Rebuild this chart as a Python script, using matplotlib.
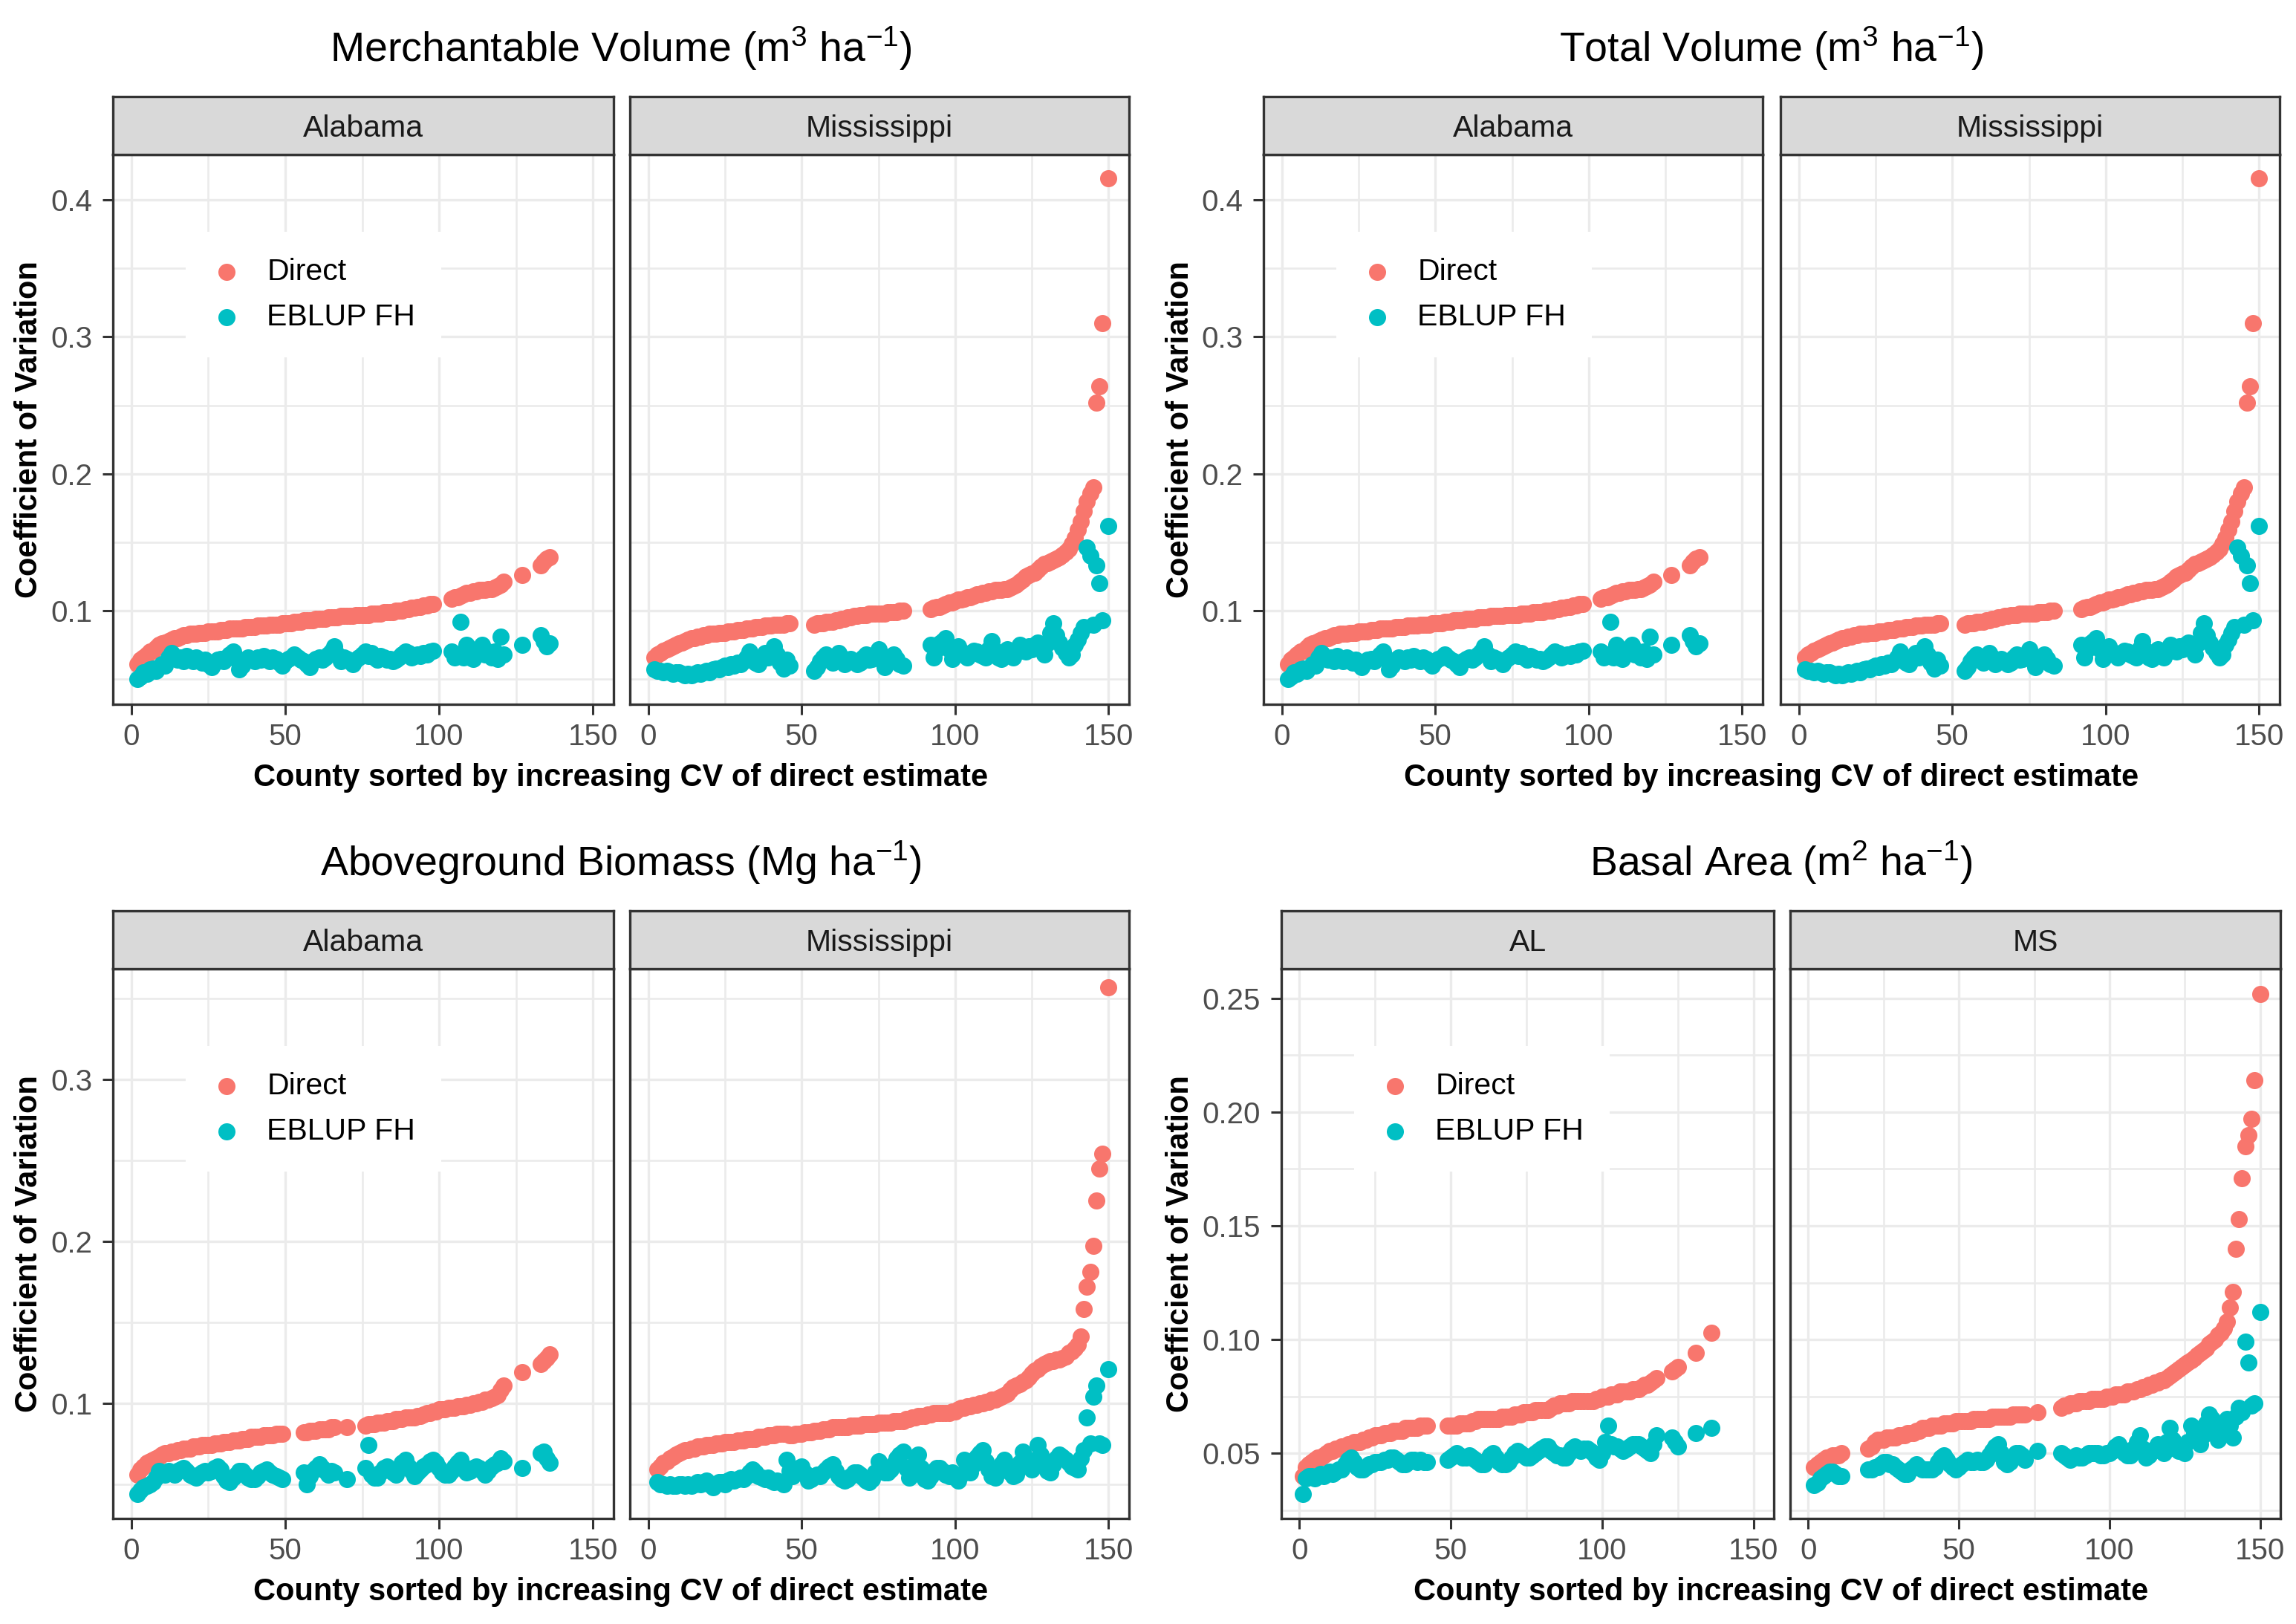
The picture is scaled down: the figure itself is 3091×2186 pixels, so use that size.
import matplotlib
matplotlib.use('Agg')
import matplotlib.pyplot as plt
from matplotlib.ticker import MultipleLocator, FormatStrFormatter

plt.rcParams['font.family'] = ['Liberation Sans', 'DejaVu Sans']
plt.rcParams['mathtext.fontset'] = 'custom'
plt.rcParams['mathtext.rm'] = 'Liberation Sans'
plt.rcParams['mathtext.it'] = 'Liberation Sans:italic'
plt.rcParams['mathtext.bf'] = 'Liberation Sans:bold'

RED = '#F8766D'
TEAL = '#00BFC4'

# ---- merchantable volume, Alabama
mv_al_x = list(range(2, 99)) + list(range(104, 122)) + [127] + list(range(133, 137))
mv_al_direct = [
    0.061, 0.064, 0.066, 0.068, 0.070, 0.071, 0.073, 0.075, 0.076, 0.077,
    0.078, 0.079, 0.080, 0.080, 0.081, 0.082, 0.082, 0.083, 0.083, 0.083,
    0.084, 0.084, 0.084, 0.085, 0.085, 0.085, 0.085, 0.086, 0.086, 0.086,
    0.087, 0.087, 0.087, 0.087, 0.087, 0.088, 0.088, 0.088, 0.088, 0.089,
    0.089, 0.089, 0.089, 0.090, 0.090, 0.090, 0.090, 0.091, 0.091, 0.091,
    0.091, 0.092, 0.092, 0.092, 0.093, 0.093, 0.093, 0.093, 0.094, 0.094,
    0.094, 0.094, 0.095, 0.095, 0.095, 0.095, 0.096, 0.096, 0.096, 0.096,
    0.096, 0.097, 0.097, 0.097, 0.097, 0.097, 0.098, 0.098, 0.098, 0.098,
    0.099, 0.099, 0.099, 0.099, 0.100, 0.100, 0.100, 0.101, 0.101, 0.102,
    0.102, 0.103, 0.103, 0.104, 0.104, 0.105, 0.105,
    0.109, 0.110, 0.110, 0.111, 0.112, 0.113, 0.113, 0.114, 0.114, 0.115,
    0.115, 0.115, 0.116, 0.116, 0.117, 0.118, 0.119, 0.121,
    0.126,
    0.133, 0.136, 0.138, 0.139]
mv_al_eblup = [
    0.050, 0.052, 0.055, 0.054, 0.057, 0.058, 0.056, 0.059, 0.061, 0.060,
    0.066, 0.069, 0.066, 0.064, 0.066, 0.063, 0.067, 0.065, 0.063, 0.066,
    0.064, 0.062, 0.064, 0.061, 0.059, 0.062, 0.064, 0.065, 0.063, 0.066,
    0.068, 0.070, 0.065, 0.057, 0.060, 0.064, 0.066, 0.065, 0.063, 0.066,
    0.064, 0.067, 0.065, 0.063, 0.066, 0.065, 0.062, 0.060, 0.063, 0.065,
    0.066, 0.068, 0.066, 0.064, 0.063, 0.061, 0.059, 0.063, 0.065, 0.066,
    0.064, 0.066, 0.068, 0.070, 0.074, 0.068, 0.063, 0.066, 0.065, 0.063,
    0.061, 0.064, 0.066, 0.068, 0.070, 0.067, 0.069, 0.066, 0.064, 0.067,
    0.066, 0.064, 0.065, 0.063, 0.064, 0.066, 0.068, 0.070, 0.069, 0.066,
    0.067, 0.068, 0.067, 0.069, 0.068, 0.070, 0.071,
    0.070, 0.066, 0.068, 0.092, 0.066, 0.075, 0.066, 0.065, 0.070, 0.071,
    0.075, 0.068, 0.070, 0.066, 0.070, 0.065, 0.081, 0.068,
    0.075,
    0.082, 0.078, 0.074, 0.076]

# ---- merchantable volume, Mississippi
mv_ms_x = list(range(2, 47)) + list(range(54, 84)) + list(range(92, 149)) + [150]
mv_ms_direct = [
    0.066, 0.068, 0.069, 0.071, 0.072, 0.073, 0.074, 0.075, 0.076, 0.077,
    0.078, 0.079, 0.080, 0.080, 0.081, 0.081, 0.082, 0.082, 0.083, 0.083,
    0.083, 0.084, 0.084, 0.084, 0.085, 0.085, 0.085, 0.086, 0.086, 0.086,
    0.087, 0.087, 0.087, 0.088, 0.088, 0.088, 0.089, 0.089, 0.089, 0.090,
    0.090, 0.090, 0.090, 0.091, 0.091,
    0.090, 0.091, 0.091, 0.091, 0.092, 0.092, 0.092, 0.093, 0.093, 0.094,
    0.094, 0.095, 0.095, 0.096, 0.096, 0.097, 0.097, 0.097, 0.098, 0.098,
    0.098, 0.098, 0.098, 0.098, 0.099, 0.099, 0.099, 0.099, 0.100, 0.100,
    0.101, 0.102, 0.103, 0.103, 0.104, 0.105, 0.106, 0.106, 0.107, 0.108,
    0.108, 0.109, 0.110, 0.110, 0.111, 0.112, 0.112, 0.113, 0.113, 0.114,
    0.114, 0.115, 0.115, 0.115, 0.116, 0.116, 0.117, 0.118, 0.119, 0.121,
    0.123, 0.125, 0.126, 0.127, 0.128, 0.130, 0.132, 0.134, 0.135, 0.136,
    0.137, 0.138, 0.139, 0.141, 0.143, 0.145, 0.149, 0.153, 0.159, 0.165,
    0.173, 0.180, 0.186, 0.190, 0.252, 0.264, 0.310,
    0.416]
mv_ms_eblup = [
    0.057, 0.056, 0.056, 0.055, 0.056, 0.055, 0.054, 0.055, 0.055, 0.054,
    0.053, 0.054, 0.053, 0.054, 0.055, 0.054, 0.055, 0.056, 0.055, 0.057,
    0.058, 0.057, 0.059, 0.060, 0.059, 0.061, 0.060, 0.062, 0.061, 0.063,
    0.066, 0.070, 0.066, 0.062, 0.061, 0.065, 0.069, 0.066, 0.070, 0.074,
    0.068, 0.062, 0.058, 0.064, 0.060,
    0.056, 0.059, 0.063, 0.066, 0.068, 0.064, 0.062, 0.066, 0.069, 0.066,
    0.061, 0.063, 0.065, 0.063, 0.061, 0.062, 0.066, 0.068, 0.064, 0.065,
    0.068, 0.072, 0.066, 0.059, 0.062, 0.066, 0.068, 0.065, 0.061, 0.060,
    0.075, 0.066, 0.072, 0.076, 0.078, 0.080, 0.072, 0.065, 0.070, 0.074,
    0.070, 0.068, 0.066, 0.069, 0.071, 0.070, 0.068, 0.067, 0.066, 0.072,
    0.078, 0.071, 0.066, 0.065, 0.068, 0.072, 0.069, 0.066, 0.070, 0.075,
    0.071, 0.070, 0.074, 0.072, 0.075, 0.077, 0.074, 0.068, 0.076, 0.084,
    0.091, 0.082, 0.077, 0.073, 0.069, 0.066, 0.068, 0.075, 0.079, 0.084,
    0.088, 0.146, 0.140, 0.090, 0.133, 0.120, 0.093,
    0.162]

# ---- total volume: the published chart shows the same values as merchantable volume
tv_al_x, tv_al_direct, tv_al_eblup = mv_al_x, mv_al_direct, mv_al_eblup
tv_ms_x, tv_ms_direct, tv_ms_eblup = mv_ms_x, mv_ms_direct, mv_ms_eblup

# ---- aboveground biomass, Alabama
bio_al_x = list(range(2, 50)) + list(range(56, 67)) + [70] + list(range(76, 122)) + [127] + list(range(133, 137))
bio_al_direct = [
    0.056, 0.059, 0.061, 0.063, 0.064, 0.065, 0.066, 0.067, 0.068, 0.069,
    0.069, 0.070, 0.070, 0.071, 0.071, 0.072, 0.072, 0.072, 0.073, 0.073,
    0.073, 0.074, 0.074, 0.074, 0.074, 0.075, 0.075, 0.075, 0.076, 0.076,
    0.076, 0.077, 0.077, 0.077, 0.078, 0.078, 0.078, 0.079, 0.079, 0.079,
    0.079, 0.080, 0.080, 0.080, 0.080, 0.081, 0.081, 0.081,
    0.082, 0.082, 0.083, 0.083, 0.083, 0.084, 0.084, 0.084, 0.084, 0.085, 0.085,
    0.085,
    0.086, 0.087, 0.087, 0.087, 0.088, 0.088, 0.088, 0.089, 0.089, 0.089,
    0.090, 0.090, 0.090, 0.091, 0.091, 0.091, 0.091, 0.092, 0.092, 0.093,
    0.094, 0.094, 0.095, 0.095, 0.096, 0.096, 0.096, 0.097, 0.097, 0.097,
    0.098, 0.098, 0.098, 0.099, 0.099, 0.100, 0.100, 0.101, 0.101, 0.102,
    0.102, 0.103, 0.104, 0.105, 0.108, 0.111,
    0.119,
    0.124, 0.126, 0.128, 0.130]
bio_al_eblup = [
    0.044, 0.046, 0.048, 0.049, 0.050, 0.051, 0.054, 0.058, 0.057, 0.056,
    0.058, 0.057, 0.056, 0.058, 0.059, 0.060, 0.058, 0.056, 0.055, 0.054,
    0.056, 0.057, 0.058, 0.057, 0.058, 0.060, 0.061, 0.059, 0.055, 0.052,
    0.051, 0.054, 0.056, 0.058, 0.058, 0.056, 0.054, 0.053, 0.053, 0.055,
    0.057, 0.058, 0.059, 0.057, 0.056, 0.055, 0.054, 0.053,
    0.057, 0.050, 0.055, 0.058, 0.060, 0.062, 0.060, 0.058, 0.056, 0.058, 0.057,
    0.053,
    0.060, 0.074, 0.056, 0.054, 0.054, 0.057, 0.060, 0.061, 0.059, 0.057,
    0.056, 0.060, 0.063, 0.065, 0.061, 0.058, 0.055, 0.057, 0.059, 0.061,
    0.062, 0.064, 0.065, 0.063, 0.060, 0.057, 0.056, 0.056, 0.058, 0.061,
    0.063, 0.065, 0.061, 0.057, 0.058, 0.060, 0.061, 0.060, 0.058, 0.056,
    0.058, 0.061, 0.062, 0.063, 0.066, 0.064,
    0.060,
    0.069, 0.070, 0.066, 0.063]

# ---- aboveground biomass, Mississippi
bio_ms_x = list(range(3, 149)) + [150]
bio_ms_direct = [
    0.059, 0.061, 0.063, 0.064, 0.066, 0.067, 0.068, 0.069, 0.070, 0.071,
    0.071, 0.072, 0.072, 0.073, 0.073, 0.073, 0.074, 0.074, 0.074, 0.075,
    0.075, 0.075, 0.076, 0.076, 0.076, 0.076, 0.077, 0.077, 0.077, 0.078,
    0.078, 0.078, 0.078, 0.079, 0.079, 0.079, 0.080, 0.080, 0.080, 0.081,
    0.081, 0.081, 0.081, 0.080, 0.080, 0.081, 0.081, 0.081, 0.082, 0.082,
    0.082, 0.083, 0.083, 0.083, 0.084, 0.084, 0.084, 0.085, 0.085, 0.085,
    0.085, 0.085, 0.085, 0.086, 0.086, 0.086, 0.086, 0.087, 0.087, 0.087,
    0.087, 0.087, 0.088, 0.088, 0.088, 0.088, 0.088, 0.089, 0.089, 0.089,
    0.089, 0.090, 0.090, 0.091, 0.091, 0.092, 0.092, 0.092, 0.093, 0.093,
    0.094, 0.094, 0.094, 0.094, 0.094, 0.094, 0.095, 0.095, 0.096, 0.097,
    0.097, 0.098, 0.098, 0.099, 0.099, 0.100, 0.100, 0.101, 0.101, 0.102,
    0.102, 0.103, 0.104, 0.105, 0.106, 0.108, 0.110, 0.111, 0.112, 0.113,
    0.114, 0.116, 0.118, 0.120, 0.121, 0.123, 0.124, 0.125, 0.126, 0.126,
    0.127, 0.127, 0.128, 0.129, 0.131, 0.132, 0.134, 0.136, 0.141, 0.158,
    0.172, 0.181, 0.197, 0.225, 0.245, 0.254,
    0.357]
bio_ms_eblup = [
    0.051, 0.050, 0.050, 0.049, 0.050, 0.049, 0.049, 0.050, 0.050, 0.049,
    0.050, 0.049, 0.050, 0.051, 0.050, 0.051, 0.052, 0.050, 0.048, 0.050,
    0.051, 0.051, 0.050, 0.052, 0.053, 0.052, 0.053, 0.054, 0.053, 0.055,
    0.057, 0.059, 0.057, 0.055, 0.054, 0.053, 0.054, 0.052, 0.051, 0.052,
    0.051, 0.050, 0.065, 0.058, 0.055, 0.057, 0.060, 0.061, 0.057, 0.052,
    0.053, 0.055, 0.056, 0.055, 0.057, 0.059, 0.061, 0.062, 0.058, 0.055,
    0.053, 0.052, 0.053, 0.055, 0.057, 0.057, 0.056, 0.054, 0.052, 0.051,
    0.053, 0.057, 0.064, 0.060, 0.057, 0.057, 0.059, 0.062, 0.066, 0.068,
    0.070, 0.060, 0.054, 0.056, 0.063, 0.068, 0.060, 0.053, 0.052, 0.055,
    0.058, 0.060, 0.060, 0.058, 0.056, 0.055, 0.057, 0.054, 0.052, 0.056,
    0.065, 0.060, 0.057, 0.062, 0.067, 0.069, 0.071, 0.064, 0.059, 0.055,
    0.054, 0.058, 0.062, 0.065, 0.060, 0.057, 0.055, 0.056, 0.063, 0.070,
    0.066, 0.061, 0.059, 0.065, 0.074, 0.068, 0.062, 0.058, 0.057, 0.062,
    0.066, 0.068, 0.067, 0.065, 0.063, 0.061, 0.060, 0.059, 0.066, 0.071,
    0.091, 0.075, 0.104, 0.111, 0.075, 0.074,
    0.121]

# ---- basal area, AL
ba_al_x = list(range(1, 43)) + list(range(49, 119)) + [123, 124, 125, 131, 136]
ba_al_direct = [
    0.040, 0.044, 0.045, 0.046, 0.047, 0.048, 0.048, 0.049, 0.050, 0.051,
    0.051, 0.052, 0.052, 0.053, 0.053, 0.054, 0.054, 0.055, 0.055, 0.055,
    0.056, 0.056, 0.057, 0.057, 0.058, 0.058, 0.058, 0.059, 0.059, 0.059,
    0.060, 0.060, 0.060, 0.060, 0.061, 0.061, 0.061, 0.061, 0.061, 0.062,
    0.062, 0.062,
    0.062, 0.062, 0.062, 0.062, 0.063, 0.063, 0.063, 0.063, 0.064, 0.064,
    0.065, 0.065, 0.065, 0.065, 0.065, 0.065, 0.065, 0.065, 0.066, 0.066,
    0.066, 0.066, 0.067, 0.067, 0.067, 0.068, 0.068, 0.068, 0.068, 0.069,
    0.069, 0.069, 0.069, 0.069, 0.070, 0.071, 0.071, 0.072, 0.072, 0.072,
    0.072, 0.073, 0.073, 0.073, 0.073, 0.073, 0.073, 0.073, 0.073, 0.074,
    0.074, 0.075, 0.075, 0.075, 0.076, 0.076, 0.076, 0.077, 0.077, 0.077,
    0.077, 0.078, 0.078, 0.078, 0.079, 0.080, 0.080, 0.081, 0.082, 0.083,
    0.086, 0.087, 0.088, 0.094, 0.103]
ba_al_eblup = [
    0.032, 0.039, 0.040, 0.040, 0.039, 0.040, 0.041, 0.040, 0.041, 0.042,
    0.041, 0.042, 0.043, 0.043, 0.045, 0.047, 0.048, 0.046, 0.044, 0.043,
    0.043, 0.044, 0.045, 0.045, 0.046, 0.046, 0.046, 0.047, 0.047, 0.048,
    0.048, 0.047, 0.046, 0.045, 0.045, 0.046, 0.047, 0.047, 0.046, 0.047,
    0.046, 0.046,
    0.047, 0.048, 0.049, 0.050, 0.049, 0.048, 0.048, 0.049, 0.048, 0.047,
    0.046, 0.045, 0.045, 0.047, 0.049, 0.050, 0.048, 0.046, 0.045, 0.045,
    0.046, 0.048, 0.050, 0.051, 0.050, 0.049, 0.048, 0.048, 0.049, 0.050,
    0.051, 0.052, 0.053, 0.053, 0.051, 0.050, 0.049, 0.049, 0.048, 0.048,
    0.050, 0.052, 0.053, 0.052, 0.051, 0.052, 0.052, 0.051, 0.050, 0.048,
    0.047, 0.050, 0.055, 0.062, 0.054, 0.053, 0.053, 0.052, 0.051, 0.052,
    0.053, 0.054, 0.054, 0.054, 0.053, 0.052, 0.051, 0.050, 0.054, 0.058,
    0.057, 0.055, 0.053, 0.059, 0.061]

# ---- basal area, MS
ba_ms_x = list(range(2, 12)) + list(range(20, 73)) + [76] + list(range(84, 149)) + [150]
ba_ms_direct = [
    0.044, 0.045, 0.046, 0.047, 0.048, 0.048, 0.049, 0.049, 0.049, 0.050,
    0.052, 0.053, 0.055, 0.056, 0.056, 0.056, 0.057, 0.057, 0.057, 0.057,
    0.058, 0.058, 0.058, 0.059, 0.059, 0.059, 0.060, 0.060, 0.061, 0.061,
    0.061, 0.062, 0.062, 0.062, 0.062, 0.063, 0.063, 0.063, 0.063, 0.064,
    0.064, 0.064, 0.064, 0.064, 0.064, 0.065, 0.065, 0.065, 0.065, 0.065,
    0.065, 0.066, 0.066, 0.066, 0.066, 0.066, 0.066, 0.066, 0.067, 0.067,
    0.067, 0.067, 0.067,
    0.068,
    0.070, 0.071, 0.071, 0.072, 0.072, 0.072, 0.073, 0.073, 0.073, 0.073,
    0.074, 0.074, 0.074, 0.074, 0.074, 0.075, 0.075, 0.075, 0.076, 0.076,
    0.076, 0.076, 0.077, 0.077, 0.077, 0.078, 0.078, 0.079, 0.079, 0.080,
    0.080, 0.081, 0.081, 0.082, 0.082, 0.083, 0.084, 0.085, 0.086, 0.087,
    0.088, 0.089, 0.090, 0.091, 0.092, 0.093, 0.094, 0.095, 0.096, 0.098,
    0.099, 0.100, 0.102, 0.103, 0.105, 0.108, 0.114, 0.121,
    0.140, 0.153, 0.171, 0.185, 0.190, 0.197, 0.214,
    0.252]
ba_ms_eblup = [
    0.036, 0.037, 0.039, 0.040, 0.041, 0.042, 0.042, 0.041, 0.040, 0.040,
    0.043, 0.043, 0.044, 0.044, 0.045, 0.046, 0.046, 0.045, 0.045, 0.044,
    0.043, 0.042, 0.041, 0.041, 0.043, 0.044, 0.045, 0.044, 0.043, 0.043,
    0.043, 0.043, 0.044, 0.046, 0.048, 0.049, 0.047, 0.045, 0.044, 0.043,
    0.044, 0.045, 0.046, 0.047, 0.046, 0.046, 0.047, 0.046, 0.046, 0.047,
    0.049, 0.051, 0.053, 0.054, 0.050, 0.046, 0.045, 0.046, 0.048, 0.050,
    0.050, 0.049, 0.047,
    0.051,
    0.050, 0.049, 0.048, 0.047, 0.048, 0.049, 0.048, 0.048, 0.049, 0.050,
    0.050, 0.050, 0.050, 0.049, 0.049, 0.050, 0.050, 0.051, 0.053, 0.054,
    0.052, 0.050, 0.049, 0.049, 0.052, 0.055, 0.058, 0.052, 0.048, 0.049,
    0.051, 0.052, 0.054, 0.051, 0.050, 0.055, 0.061, 0.056, 0.052, 0.051,
    0.051, 0.050, 0.055, 0.062, 0.059, 0.056, 0.054, 0.058, 0.063, 0.067,
    0.065, 0.060, 0.056, 0.060, 0.063, 0.065, 0.062, 0.057,
    0.066, 0.070, 0.068, 0.099, 0.090, 0.071, 0.072,
    0.112]

xlabel = 'County sorted by increasing CV of direct estimate'
ylabel = 'Coefficient of Variation'

# figure in pixels
W, H = 3091, 2186
fig = plt.figure(figsize=(W / 100, H / 100), dpi=100)


def box(l, t, r, b):
    return [l / W, 1 - b / H, (r - l) / W, (b - t) / H]


def draw_chart(title, names, facets, cols, top, ylim, ystep, yfmt, ylab_x):
    strip_top, panel_top, panel_bot = top, top + 78, top + 818
    for k, (name, (xs, d, e), (l, r)) in enumerate(zip(names, facets, cols)):
        ax = fig.add_axes(box(l, panel_top, r, panel_bot))
        ax.set_axisbelow(True)
        ax.scatter(xs, d, s=275, c=RED, linewidths=0, label='Direct', zorder=3)
        ax.scatter(xs, e, s=275, c=TEAL, linewidths=0, label='EBLUP FH', zorder=3)
        ax.set_xlim(-6.0, 156.7)
        ax.set_ylim(*ylim)
        ax.xaxis.set_major_locator(MultipleLocator(50))
        ax.xaxis.set_minor_locator(MultipleLocator(25))
        ax.yaxis.set_major_locator(MultipleLocator(ystep))
        ax.yaxis.set_minor_locator(MultipleLocator(ystep / 2))
        ax.yaxis.set_major_formatter(FormatStrFormatter(yfmt))
        ax.grid(which='major', color='#EBEBEB', lw=2.4)
        ax.grid(which='minor', color='#EBEBEB', lw=1.9)
        for sp in ax.spines.values():
            sp.set_color('#333333')
            sp.set_linewidth(2.4)
        ax.tick_params(which='major', length=10, width=2.2, color='#333333',
                       labelsize=29, labelcolor='#4D4D4D')
        ax.tick_params(axis='x', pad=8)
        ax.tick_params(axis='y', pad=10)
        ax.tick_params(which='minor', length=0)
        if k == 1:
            ax.tick_params(axis='y', which='both', length=0, labelleft=False)
        else:
            ax.legend(loc='upper left',
                      bbox_to_anchor=(98 / (r - l), 1 - 104 / (panel_bot - panel_top)),
                      borderaxespad=0, frameon=True, facecolor='white',
                      edgecolor='none', framealpha=1, fancybox=False,
                      borderpad=0.85, labelspacing=0.56, handlelength=1.0,
                      handletextpad=0.82, fontsize=29.5, scatterpoints=1,
                      markerscale=1.0)
        # facet strip
        sax = fig.add_axes(box(l, strip_top, r, panel_top))
        sax.set_facecolor('#D9D9D9')
        sax.set_xticks([])
        sax.set_yticks([])
        for sp in sax.spines.values():
            sp.set_color('#333333')
            sp.set_linewidth(2.4)
        sax.text(0.5, 0.45, name, ha='center', va='center', fontsize=29.5,
                 color='#1A1A1A', transform=sax.transAxes)

    cx = (cols[0][0] + cols[1][1]) / 2
    fig.text(cx / W, 1 - (top - 47) / H, title, ha='center', va='baseline',
             fontsize=40, color='black')
    fig.text(cx / W, 1 - (top + 928) / H, xlabel, ha='center', va='baseline',
             fontsize=30, fontweight='bold')
    fig.text(ylab_x / W, 1 - (panel_top + panel_bot) / 2 / H, ylabel,
             rotation=90, ha='center', va='center', fontsize=30,
             fontweight='bold')


left_cols = [(152, 826), (848, 1520)]

draw_chart('Merchantable Volume ($\\mathrm{m}^{3}$ $\\mathrm{ha}^{-1}$)',
           ['Alabama', 'Mississippi'],
           [(mv_al_x, mv_al_direct, mv_al_eblup), (mv_ms_x, mv_ms_direct, mv_ms_eblup)],
           left_cols, 130, (0.0317, 0.4332), 0.1, '%.1f', 39)

draw_chart('Total Volume ($\\mathrm{m}^{3}$ $\\mathrm{ha}^{-1}$)',
           ['Alabama', 'Mississippi'],
           [(tv_al_x, tv_al_direct, tv_al_eblup), (tv_ms_x, tv_ms_direct, tv_ms_eblup)],
           [(1701, 2373), (2397, 3069)], 130, (0.0317, 0.4332), 0.1, '%.1f', 1589)

draw_chart('Aboveground Biomass (Mg $\\mathrm{ha}^{-1}$)',
           ['Alabama', 'Mississippi'],
           [(bio_al_x, bio_al_direct, bio_al_eblup), (bio_ms_x, bio_ms_direct, bio_ms_eblup)],
           left_cols, 1226, (0.0287, 0.3684), 0.1, '%.1f', 39)

draw_chart('Basal Area ($\\mathrm{m}^{2}$ $\\mathrm{ha}^{-1}$)',
           ['AL', 'MS'],
           [(ba_al_x, ba_al_direct, ba_al_eblup), (ba_ms_x, ba_ms_direct, ba_ms_eblup)],
           [(1725, 2388), (2410, 3070)], 1226, (0.0213, 0.263), 0.05, '%.2f', 1589)

fig.savefig('out.png', dpi=100, facecolor='white')
